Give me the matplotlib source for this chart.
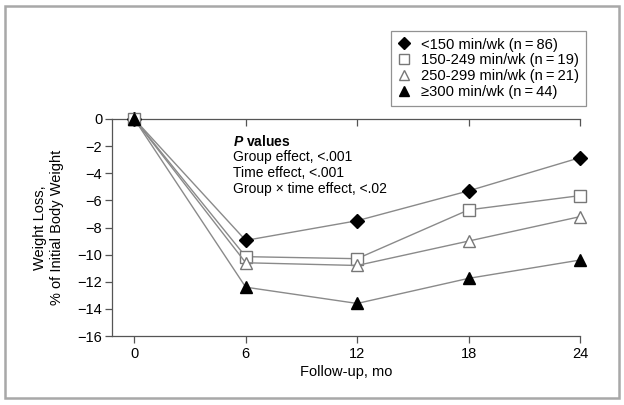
import matplotlib.pyplot as plt
from matplotlib.patches import Rectangle

plt.rcParams['font.family'] = ['Liberation Sans', 'DejaVu Sans']
plt.rcParams['mathtext.fontset'] = 'custom'
plt.rcParams['mathtext.bfit'] = 'Liberation Sans:italic:bold'

# Data
months = [0, 6, 12, 18, 24]
lt150 = [0, -8.95, -7.5, -5.3, -2.85]
r150_249 = [0, -10.15, -10.3, -6.7, -5.65]
r250_299 = [0, -10.6, -10.8, -9.0, -7.2]
ge300 = [0, -12.4, -13.6, -11.75, -10.4]

labels = ['<150 min/wk (n\u2009=\u200986)', '150-249 min/wk (n\u2009=\u200919)',
          '250-299 min/wk (n\u2009=\u200921)', '\u2265300 min/wk (n\u2009=\u200944)']

line_col = '#8a8a8a'

fig = plt.figure(figsize=(6.24, 4.05), dpi=100)
ax = fig.add_axes([112 / 624, 1 - 336 / 405, (580 - 112) / 624, (336 - 119) / 405])

# outer frame
fig.patches.append(Rectangle((5 / 624, 7 / 405), 614 / 624, 392 / 405, transform=fig.transFigure,
                             fill=False, edgecolor='#a8a8a8', linewidth=1.8))

ax.plot(months, lt150, color=line_col, lw=1, marker='D', ms=7.5, mfc='black', mec='black',
        clip_on=False, label=labels[0], zorder=3)
ax.plot(months, r150_249, color=line_col, lw=1, marker='s', ms=8, mfc='white', mec='#777777',
        mew=1, clip_on=False, label=labels[1], zorder=3)
ax.plot(months, r250_299, color=line_col, lw=1, marker='^', ms=8.5, mfc='white', mec='#777777',
        mew=1, clip_on=False, label=labels[2], zorder=3)
ax.plot(months, ge300, color=line_col, lw=1, marker='^', ms=8.5, mfc='black', mec='black',
        clip_on=False, label=labels[3], zorder=3)

ax.set_xlim(-1.2, 24)
ax.set_ylim(-16, 0)
ax.set_xticks(months)
ax.set_yticks(range(-16, 1, 2))
ax.set_yticklabels(['\u2212%d' % -v if v < 0 else '0' for v in range(-16, 1, 2)])

ax.spines['right'].set_visible(False)
for s in ['left', 'bottom', 'top']:
    ax.spines[s].set_color('#555555')
    ax.spines[s].set_linewidth(0.9)
ax.tick_params(axis='x', direction='out', length=5, width=0.9, color='#555555',
               labelsize=10.5, pad=3, top=True)
ax.tick_params(axis='y', direction='out', length=5, width=0.9, color='#555555',
               labelsize=10.5, pad=2)
# ticks on top spine point down (inward)
for t in ax.xaxis.get_major_ticks():
    t.tick2line.set_marker(3)
    t.tick2line.set_markersize(5)
ax.xaxis.get_major_ticks()[0].tick2line.set_visible(False)

ax.set_xlabel('Follow-up, mo', fontsize=10.5, labelpad=3)
ax.set_ylabel('Weight Loss,\n% of Initial Body Weight', fontsize=10.5, labelpad=10)

fig.text(233 / 624, 1 - 141 / 405, r'$\bfit{P}$' + ' values', fontsize=10,
         fontweight='bold', va='center', ha='left')
fig.text(233 / 624, 1 - 157 / 405, 'Group effect, <.001', fontsize=10, va='center')
fig.text(233 / 624, 1 - 173 / 405, 'Time effect, <.001', fontsize=10, va='center')
fig.text(233 / 624, 1 - 189 / 405, 'Group \u00d7 time effect, <.02', fontsize=10, va='center')

leg = ax.legend(loc='upper left', bbox_to_anchor=(391 / 624, 1 - 31 / 405),
                bbox_transform=fig.transFigure, frameon=True, fancybox=False,
                fontsize=10.6, handlelength=0.8, handletextpad=0.8, borderpad=0.45,
                labelspacing=0.12, borderaxespad=0, markerscale=0.85)
leg.get_frame().set_edgecolor('#777777')
leg.get_frame().set_linewidth(0.9)
for h in leg.get_lines():
    h.set_linestyle('')

fig.savefig('out.png', dpi=100)
